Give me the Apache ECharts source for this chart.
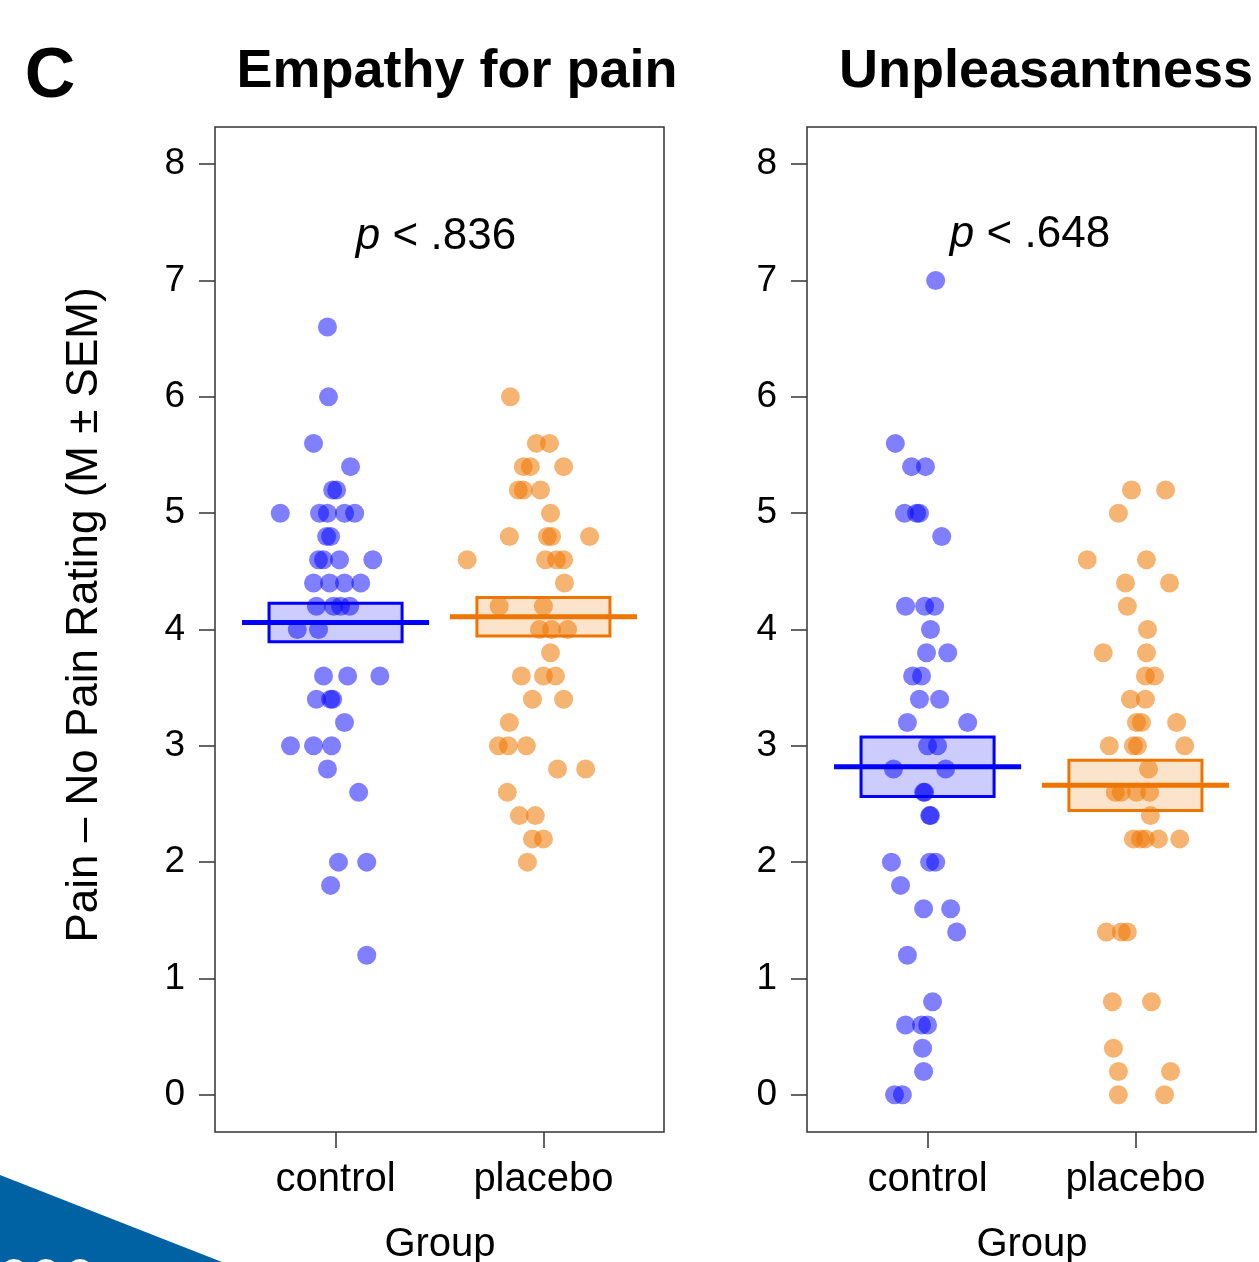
<!DOCTYPE html>
<html>
<head>
<meta charset="utf-8">
<script src="https://cdn.jsdelivr.net/npm/echarts@6/dist/echarts.min.js"></script>
<style>
html,body{margin:0;padding:0;background:#fff;}
#chart{width:1259px;height:1262px;}
</style>
</head>
<body>
<div id="chart"></div>
<script>
// ---------- data ----------
const categories = ['control', 'placebo'];
const yTicks = [0, 1, 2, 3, 4, 5, 6, 7, 8];
const panelTitles = ['Empathy for pain', 'Unpleasantness'];
const pLabels = ['.836', '.648'];

// Empathy for pain — control (jittered x, rating)
const empControlX = [0.961,0.966,0.894,1.072,0.986,1.005,0.734,0.923,0.961,1.043,1.092,0.957,0.976,0.918,0.942,1.019,1.179,0.894,0.971,1.043,1.121,0.908,0.990,1.024,1.068,0.816,0.918,0.942,1.058,1.213,0.908,0.976,0.986,1.043,0.783,0.894,0.981,0.961,1.111,1.014,1.150,0.976,1.150];
const empControlY = [6.6,6.0,5.6,5.4,5.2,5.2,5.0,5.0,5.0,5.0,5.0,4.8,4.8,4.6,4.6,4.6,4.6,4.4,4.4,4.4,4.4,4.2,4.2,4.2,4.2,4.0,4.0,3.6,3.6,3.6,3.4,3.4,3.4,3.2,3.0,3.0,3.0,2.8,2.6,2.0,2.0,1.8,1.2];
// Empathy for pain — placebo
const empPlaceboX = [1.841,1.966,2.029,1.903,1.937,2.097,1.879,1.903,1.986,2.034,1.836,2.019,2.039,2.222,1.633,2.010,2.063,2.097,2.101,1.787,2.000,1.981,2.039,2.116,2.034,1.894,2.000,2.058,1.947,2.097,1.836,1.783,1.831,1.918,2.068,2.203,1.826,1.884,1.961,1.947,2.000,1.923];
const empPlaceboY = [6.0,5.6,5.6,5.4,5.4,5.4,5.2,5.2,5.2,5.0,4.8,4.8,4.8,4.8,4.6,4.6,4.6,4.6,4.4,4.2,4.2,4.0,4.0,4.0,3.8,3.6,3.6,3.6,3.4,3.4,3.2,3.0,3.0,3.0,2.8,2.8,2.6,2.4,2.4,2.2,2.2,2.0];
// Unpleasantness — control
const unpControlX = [1.039,0.845,0.923,0.990,0.889,0.947,0.961,1.068,0.894,0.986,1.034,1.014,0.995,1.097,0.928,0.971,0.961,1.058,0.903,1.193,1.000,1.048,0.836,1.087,0.981,0.986,1.010,1.014,0.826,1.010,1.039,0.870,0.981,1.111,1.140,0.903,1.024,0.894,0.971,1.000,0.976,0.981,0.841,0.879];
const unpControlY = [7.0,5.6,5.4,5.4,5.0,5.0,5.0,4.8,4.2,4.2,4.2,4.0,3.8,3.8,3.6,3.6,3.4,3.4,3.2,3.2,3.0,3.0,2.8,2.8,2.6,2.6,2.4,2.4,2.0,2.0,2.0,1.8,1.6,1.6,1.4,1.2,0.8,0.6,0.6,0.6,0.4,0.2,0.0,0.0];
// Unpleasantness — placebo
const unpPlaceboX = [1.981,2.145,1.918,1.768,2.053,1.952,2.164,1.961,2.058,1.845,2.053,2.048,2.092,1.976,2.048,2.005,2.029,2.198,1.874,1.990,2.010,2.237,2.063,1.903,1.932,2.005,2.068,2.072,1.990,2.024,2.048,2.111,2.213,1.860,1.932,1.961,1.889,2.077,1.894,1.918,2.169,1.918,2.140];
const unpPlaceboY = [5.2,5.2,5.0,4.6,4.6,4.4,4.4,4.2,4.0,3.8,3.8,3.6,3.6,3.4,3.4,3.2,3.2,3.2,3.0,3.0,3.0,3.0,2.8,2.6,2.6,2.6,2.6,2.4,2.2,2.2,2.2,2.2,2.2,1.4,1.4,1.4,0.8,0.8,0.4,0.2,0.2,0.0,0.0];

// group means and SEMs [control, placebo]
const empMeans = [4.06, 4.11];
const empSems = [0.165, 0.165];
const unpMeans = [2.82, 2.66];
const unpSems = [0.255, 0.215];

// ---------- styling ----------
const FONT = '"Liberation Sans", Arial, Helvetica, sans-serif';
const BLUE = '#0000FF';
const ORANGE = '#EE7600';
const BLUE_PT = 'rgba(0,0,255,0.5)';
const ORANGE_PT = 'rgba(238,118,0,0.55)';
const BLUE_FILL = 'rgba(0,0,255,0.2)';
const ORANGE_FILL = 'rgba(238,118,0,0.2)';
const groupColors = [BLUE, ORANGE];
const groupFills = [BLUE_FILL, ORANGE_FILL];

function pairs(xs, ys) { return xs.map((x, i) => [x, ys[i]]); }

const chart = echarts.init(document.getElementById('chart'), null, {renderer: 'canvas'});

const grids = [
  {left: 215, top: 127, width: 449, height: 1005},
  {left: 807, top: 127, width: 449, height: 1005}
].map(g => Object.assign(g, {show: true, borderColor: '#333', borderWidth: 1.5, backgroundColor: 'transparent', containLabel: false}));

function xAxisFor(i) {
  return {
    type: 'value', gridIndex: i, min: 0.42, max: 2.58, position: 'bottom',
    splitLine: {show: false}, axisLine: {show: false, onZero: false},
    axisTick: {show: true, inside: false, length: 16, customValues: [1, 2], lineStyle: {color: '#333', width: 1.5}},
    axisLabel: {show: true, customValues: [1, 2], margin: 28, fontSize: 40, color: '#000', fontFamily: FONT,
      formatter: v => categories[Math.round(v) - 1] || ''}
  };
}
function yAxisFor(i) {
  return {
    type: 'value', gridIndex: i, min: -0.32, max: 8.32, position: 'left',
    splitLine: {show: false}, axisLine: {show: false, onZero: false},
    axisTick: {show: true, inside: false, length: 16, customValues: yTicks, lineStyle: {color: '#333', width: 1.5}},
    axisLabel: {show: true, customValues: yTicks, margin: 30, fontSize: 37, color: '#000', fontFamily: FONT}
  };
}

function boxSeries(i, means, sems) {
  return {
    type: 'custom', xAxisIndex: i, yAxisIndex: i, z: 10,
    data: means.map((m, k) => [k + 1, m, sems[k], k]),
    renderItem: function (params, api) {
      const x = api.value(0), m = api.value(1), s = api.value(2), k = api.value(3);
      const tl = api.coord([x - 0.32, m + s]);
      const br = api.coord([x + 0.32, m - s]);
      const l1 = api.coord([x - 0.45, m]);
      const l2 = api.coord([x + 0.45, m]);
      return {
        type: 'group',
        children: [
          {type: 'rect', shape: {x: tl[0], y: tl[1], width: br[0] - tl[0], height: br[1] - tl[1]},
            style: {fill: groupFills[k], stroke: groupColors[k], lineWidth: 3}},
          {type: 'line', shape: {x1: l1[0], y1: l1[1], x2: l2[0], y2: l2[1]},
            style: {stroke: groupColors[k], lineWidth: 5}}
        ]
      };
    }
  };
}

function scatter(i, xs, ys, color) {
  return {
    type: 'scatter', xAxisIndex: i, yAxisIndex: i, z: 5,
    data: pairs(xs, ys), symbol: 'circle', symbolSize: 19,
    itemStyle: {color: color, opacity: 1},
    emphasis: {disabled: true}, silent: true
  };
}

const textStyle = (size, weight) => ({fontSize: size, fontWeight: weight || 'normal', fontFamily: FONT, fill: '#000'});

const option = {
  animation: false,
  backgroundColor: '#fff',
  grid: grids,
  xAxis: [xAxisFor(0), xAxisFor(1)],
  yAxis: [yAxisFor(0), yAxisFor(1)],
  series: [
    scatter(0, empControlX, empControlY, BLUE_PT),
    scatter(0, empPlaceboX, empPlaceboY, ORANGE_PT),
    scatter(1, unpControlX, unpControlY, BLUE_PT),
    scatter(1, unpPlaceboX, unpPlaceboY, ORANGE_PT),
    boxSeries(0, empMeans, empSems),
    boxSeries(1, unpMeans, unpSems)
  ],
  graphic: [
    {type: 'polygon', shape: {points: [[0, 1175], [0, 1262], [222, 1262]]}, style: {fill: '#0062A3'}, silent: true},
    {type: 'circle', shape: {cx: 14, cy: 1272, r: 13}, style: {fill: '#fff'}},
    {type: 'circle', shape: {cx: 46, cy: 1272, r: 13}, style: {fill: '#fff'}},
    {type: 'circle', shape: {cx: 80, cy: 1272, r: 13}, style: {fill: '#fff'}},
    {type: 'text', x: 50, y: 78, style: Object.assign({text: 'C', textAlign: 'center', textVerticalAlign: 'middle'}, textStyle(70, 'bold'))},
    {type: 'text', x: 457, y: 72, style: Object.assign({text: panelTitles[0], textAlign: 'center', textVerticalAlign: 'middle'}, textStyle(54, 'bold'))},
    {type: 'text', x: 1046, y: 72, style: Object.assign({text: panelTitles[1], textAlign: 'center', textVerticalAlign: 'middle'}, textStyle(54, 'bold'))},
    {type: 'text', x: 436, y: 237, style: Object.assign({text: '{i|p} < ' + pLabels[0], textAlign: 'center', textVerticalAlign: 'middle',
      rich: {i: {fontStyle: 'italic', fontSize: 44, fontFamily: FONT}}}, textStyle(44))},
    {type: 'text', x: 1030, y: 235, style: Object.assign({text: '{i|p} < ' + pLabels[1], textAlign: 'center', textVerticalAlign: 'middle',
      rich: {i: {fontStyle: 'italic', fontSize: 44, fontFamily: FONT}}}, textStyle(44))},
    {type: 'text', x: 85, y: 615, rotation: Math.PI / 2, style: Object.assign({text: 'Pain \u2013 No Pain Rating (M \u00b1 SEM)', textAlign: 'center', textVerticalAlign: 'middle'}, textStyle(44))},
    {type: 'text', x: 440, y: 1245, style: Object.assign({text: 'Group', textAlign: 'center', textVerticalAlign: 'middle'}, textStyle(40))},
    {type: 'text', x: 1032, y: 1245, style: Object.assign({text: 'Group', textAlign: 'center', textVerticalAlign: 'middle'}, textStyle(40))}
  ]
};
chart.setOption(option);
</script>
</body>
</html>
